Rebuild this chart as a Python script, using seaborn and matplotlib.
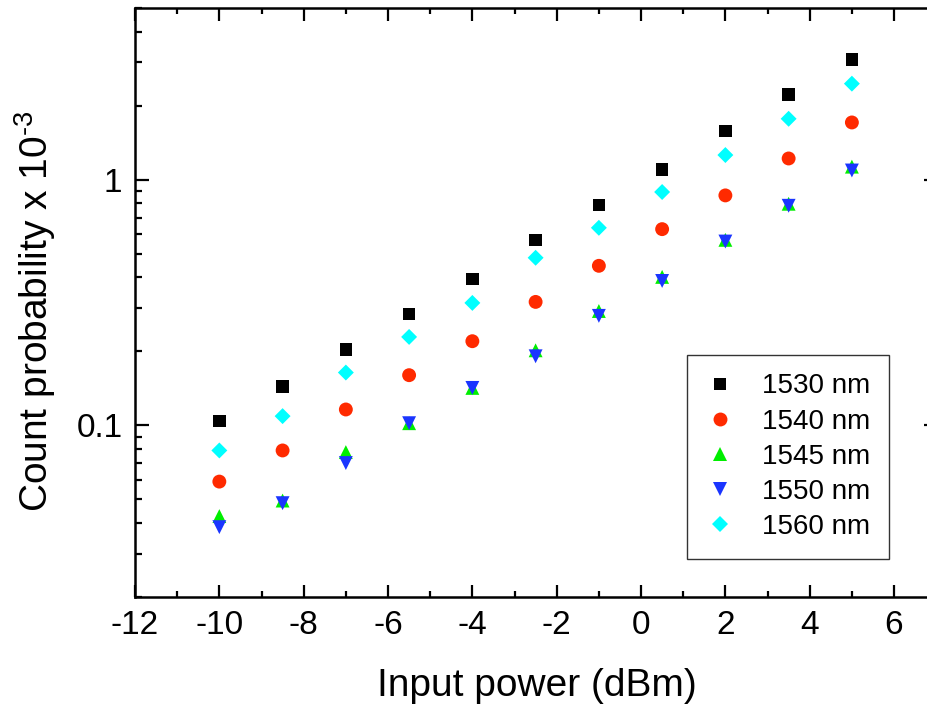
import numpy as np
import pandas as pd
import matplotlib
matplotlib.use("Agg")
import matplotlib.pyplot as plt
import matplotlib.ticker as mticker
import seaborn as sns

# ---- data ----
power = [-10, -8.5, -7, -5.5, -4, -2.5, -1, 0.5, 2, 3.5, 5]
wl_labels = ["1530 nm", "1540 nm", "1545 nm", "1550 nm", "1560 nm"]
p1530 = [0.104, 0.144, 0.204, 0.284, 0.394, 0.569, 0.79, 1.10, 1.58, 2.22, 3.08]
p1540 = [0.059, 0.079, 0.116, 0.160, 0.220, 0.318, 0.446, 0.629, 0.863, 1.22, 1.71]
p1545 = [0.0427, 0.0494, 0.0778, 0.102, 0.142, 0.202, 0.292, 0.402, 0.569, 0.798, 1.13]
p1550 = [0.0385, 0.0482, 0.0702, 0.102, 0.142, 0.191, 0.279, 0.387, 0.560, 0.783, 1.09]
p1560 = [0.079, 0.109, 0.164, 0.229, 0.315, 0.481, 0.637, 0.891, 1.26, 1.77, 2.46]
series = [p1530, p1540, p1545, p1550, p1560]

colors = ["#000000", "#ff2a00", "#00ee00", "#1a35ff", "#00ffff"]
markers = ["s", "o", "^", "v", "D"]
msizes = [81, 100, 100, 100, 66]

rows = []
for lab, vals in zip(wl_labels, series):
    for x, y in zip(power, vals):
        rows.append({"power": x, "prob": y, "wl": lab})
df = pd.DataFrame(rows)

# ---- style ----
sns.set_style("white")
plt.rcParams["font.family"] = ["Liberation Sans", "DejaVu Sans"]
plt.rcParams["mathtext.fontset"] = "custom"
plt.rcParams["mathtext.rm"] = "Liberation Sans"
plt.rcParams["mathtext.it"] = "Liberation Sans:italic"
plt.rcParams["axes.unicode_minus"] = False
plt.rcParams["text.color"] = "black"
plt.rcParams["axes.labelcolor"] = "black"
plt.rcParams["xtick.color"] = "black"
plt.rcParams["ytick.color"] = "black"

fig = plt.figure(figsize=(9.28, 7.10), dpi=100)
ax = fig.add_axes([135 / 928, (710 - 597) / 710, (938 - 135) / 928, (597 - 8) / 710])

sns.scatterplot(
    data=df, x="power", y="prob", hue="wl", style="wl", size="wl",
    palette=dict(zip(wl_labels, colors)),
    markers=dict(zip(wl_labels, markers)),
    sizes=dict(zip(wl_labels, msizes)),
    linewidth=0, edgecolor="none", alpha=1, ax=ax, legend=True, zorder=3,
)

ax.set_yscale("log")
ax.set_xlim(-12, -12 + (938 - 135) / 42.17)
ax.set_ylim(0.02, 5)

ax.xaxis.set_major_locator(mticker.MultipleLocator(2))
ax.xaxis.set_minor_locator(mticker.MultipleLocator(1))
ax.yaxis.set_major_locator(mticker.FixedLocator([0.1, 1]))
ax.yaxis.set_major_formatter(mticker.FixedFormatter(["0.1", "1"]))
ax.yaxis.set_minor_locator(mticker.LogLocator(base=10, subs=np.arange(2, 10)))
ax.yaxis.set_minor_formatter(mticker.NullFormatter())

for side in ["left", "bottom", "top"]:
    ax.spines[side].set_visible(True)
    ax.spines[side].set_color("black")
    ax.spines[side].set_linewidth(1.8)
ax.spines["right"].set_visible(False)

ax.tick_params(axis="both", which="major", direction="in", length=10, width=1.6,
               labelsize=24, color="black", labelcolor="black", pad=9,
               top=True, bottom=True, left=True)
ax.tick_params(axis="both", which="minor", direction="in", length=5, width=1.6,
               color="black", top=True, bottom=True, left=True)
ax.tick_params(axis="y", which="major", right=True, length=10)
ax.tick_params(axis="y", which="minor", right=False)
ax.tick_params(axis="x", which="major", top=True, length=9)
ax.tick_params(axis="x", which="minor", top=True, length=4)

ax.set_xlabel("Input power (dBm)", fontsize=28, labelpad=19.5, color="black")
ax.set_ylabel(r"Count probability x 10$^{\text{-}3}$", fontsize=28, color="black")
ax.yaxis.set_label_coords(-0.096, 0.485)

handles, labels = ax.get_legend_handles_labels()
leg = ax.legend(handles, labels, loc="lower right",
                bbox_to_anchor=((889 - 135) / (938 - 135), (597 - 559) / 589),
                borderaxespad=0, fontsize=20, frameon=True, fancybox=False,
                edgecolor="#333333", framealpha=1, handlelength=1.0,
                handletextpad=1.0, borderpad=0.68, labelspacing=0.33)
leg.get_frame().set_linewidth(1.0)

fig.savefig("out.png", dpi=100)
